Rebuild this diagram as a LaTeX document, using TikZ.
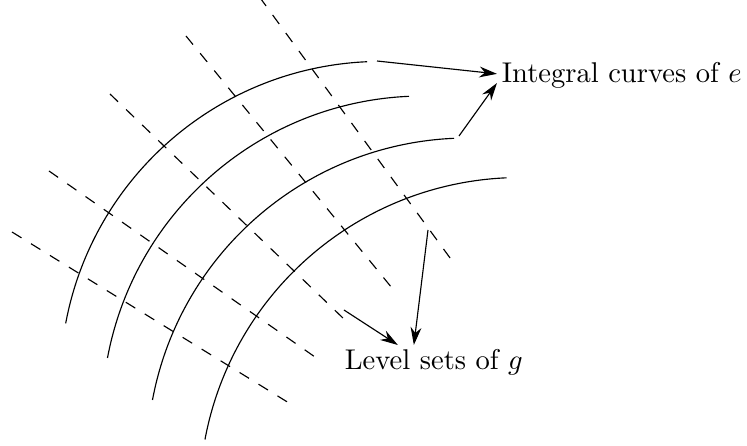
\documentclass[tikz,border=0pt]{standalone}
\usetikzlibrary{arrows.meta,calc}
\begin{document}
\begin{tikzpicture}[x=0.35pt,y=0.35pt,
  curve/.style={line width=0.4pt},
  level/.style={line width=0.4pt,dash pattern=on 3.9pt off 3.9pt},
  pointer/.style={line width=0.4pt,-{Stealth[length=6.2pt,width=3.8pt,inset=2pt]}},
  lbl/.style={anchor=base west,inner sep=1.5pt,font=\normalsize}]
\useasboundingbox (0,0) rectangle (747,446);
% centres of the integral curves
\coordinate (c1) at (381.2,63.6);
\coordinate (c2) at (423,29);
\coordinate (c3) at (468,-13);
\coordinate (c4) at (520.5,-52.5);
\foreach \c in {c1,c2,c3,c4}
  \draw[curve] ($(\c)+(169.4:321)$) arc[start angle=169.4,end angle=92.5,radius=321];
% level sets
\draw[level] (259.5,449) -- (453,184);
\draw[level] (186,410) -- (392,158);
\draw[level] (110,352) -- (345,126);
\draw[level] (49,275) -- (315,89);
\draw[level] (12,214) -- (289,43);
% labels
\node[lbl] (int) at (497,363) {Integral curves of $e$};
\node[lbl] (lvl) at (340,76) {Level sets of $g$};
% arrow tails
\coordinate (t1) at (377,385);
\coordinate (t2) at (459,310);
\coordinate (t3) at (344,136);
\coordinate (t4) at (428,216);
\draw[pointer] (t1) -- ([yshift=0.7pt]int.west);
\draw[pointer] (t2) -- (int.base west);
\draw[pointer] (t3) -- ([xshift=-12.6pt]lvl.north);
\draw[pointer] (t4) -- ([xshift=-7pt]lvl.north);
\end{tikzpicture}
\end{document}
